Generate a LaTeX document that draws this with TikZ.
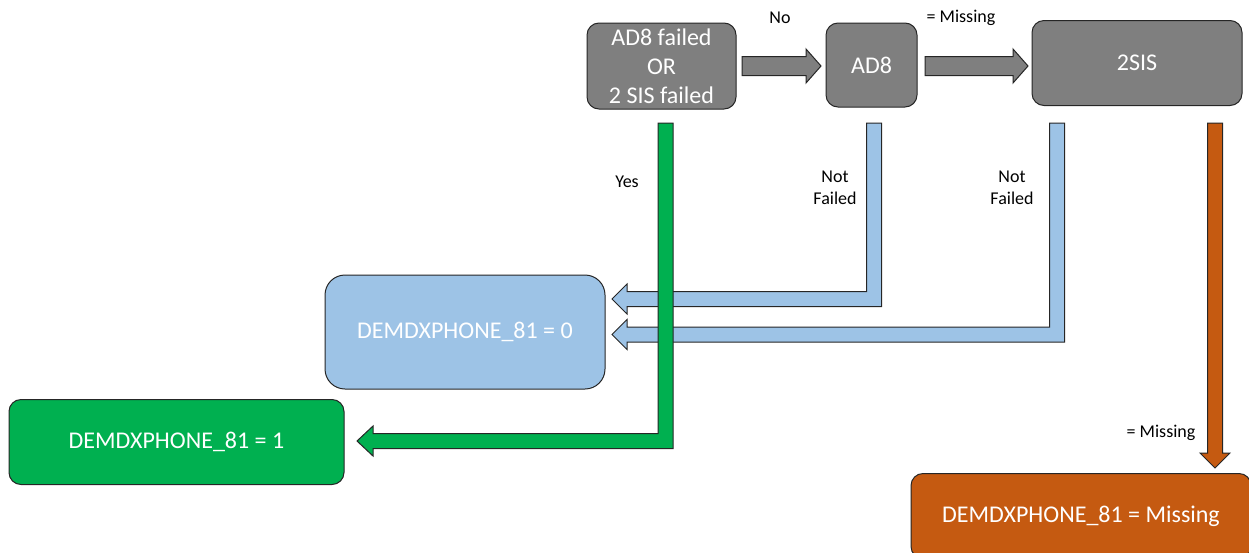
\documentclass[tikz,border=0pt]{standalone}
\usepackage{fontspec}
\setmainfont{Carlito}
\usetikzlibrary{calc}
\definecolor{cgray}{HTML}{7F7F7F}
\definecolor{cblue}{HTML}{9DC3E6}
\definecolor{cgreen}{HTML}{00B050}
\definecolor{corange}{HTML}{C55A11}
\definecolor{cline}{HTML}{262626}
\tikzset{
  box/.style={draw=cline, line width=1pt, rounded corners=12pt, inner sep=0pt, align=center,
    text=white, font=\fontsize{24}{29}\selectfont},
  lbl/.style={inner sep=0pt, align=center, text=black, font=\fontsize{18}{22}\selectfont},
  blk/.style={draw=cline, line width=1pt, line join=miter}
}
% horizontal block arrow: start, tip, shaft half-width, head half-width, head length (signed)
\newcommand{\HBlock}[6]{%
  \draw[blk, fill=#6] ($(#1)+(0,-#3)$) -- ($(#2)+(-#5,-#3)$) -- ($(#2)+(-#5,-#4)$) -- (#2)
    -- ($(#2)+(-#5,#4)$) -- ($(#2)+(-#5,#3)$) -- ($(#1)+(0,#3)$) -- cycle;}
% L-shaped block arrow: top, corner, tip (to the left), half-width, head half-width, head length
\newcommand{\LBlock}[7]{%
  \draw[blk, fill=#7] ($(#1)+(-#4,0)$) -- ($(#1)+(#4,0)$) -- ($(#2)+(#4,#4)$) -- ($(#3)+(#6,#4)$)
    -- ($(#3)+(#6,#5)$) -- (#3) -- ($(#3)+(#6,-#5)$) -- ($(#3)+(#6,-#4)$) -- ($(#2)+(-#4,-#4)$) -- cycle;}
% vertical block arrow downwards: top, tip, half-width, head half-width, head length
\newcommand{\VBlock}[6]{%
  \draw[blk, fill=#6] ($(#1)+(-#3,0)$) -- ($(#1)+(#3,0)$) -- ($(#2)+(#3,-#5)$) -- ($(#2)+(#4,-#5)$)
    -- (#2) -- ($(#2)+(-#4,-#5)$) -- ($(#2)+(-#3,-#5)$) -- cycle;}
\begin{document}
\begin{tikzpicture}[x=1pt,y=-1pt]
\useasboundingbox (0,0) rectangle (1249,552);
\clip (0,0) rectangle (1249,552);
% boxes
\node[box, fill=cgray, minimum width=149pt, minimum height=86pt] (fail) at (661.5,66) {AD8 failed\\OR\\2 SIS failed};
\node[box, fill=cgray, minimum width=91pt, minimum height=84pt] (ad8) at (871.5,65) {AD8};
\node[box, fill=cgray, minimum width=210pt, minimum height=85pt] (sis) at (1137,63) {2SIS};
\node[box, fill=cblue, rounded corners=20pt, minimum width=280pt, minimum height=114pt] (zero) at (465,332) {DEMDXPHONE\_81 = 0};
\node[box, fill=cgreen, minimum width=335pt, minimum height=85pt] (one) at (176.5,442) {DEMDXPHONE\_81 = 1};
\node[box, fill=corange, minimum width=340pt, minimum height=85pt] (miss) at (1081,516) {DEMDXPHONE\_81 = Missing};
% connector points
\coordinate (a1s) at (742,66);
\coordinate (a1e) at (821,66);
\coordinate (a2s) at (925,66);
\coordinate (a2e) at (1028,66);
\coordinate (b1t) at (874,123);
\coordinate (b1c) at (874,299);
\coordinate (b1e) at (612,299);
\coordinate (b2t) at (1057,123);
\coordinate (b2c) at (1057,334.5);
\coordinate (b2e) at (612,334.5);
\coordinate (gt) at (665.5,123);
\coordinate (gc) at (665.5,441);
\coordinate (ge) at (357,441);
\coordinate (ot) at (1215,123);
\coordinate (oe) at (1215,468);
% arrows
\HBlock{a1s}{a1e}{9.5}{17}{15}{cgray}
\HBlock{a2s}{a2e}{9.5}{17}{15}{cgray}
\LBlock{b1t}{b1c}{b1e}{7.5}{15}{15}{cblue}
\LBlock{b2t}{b2c}{b2e}{7.5}{15}{15}{cblue}
\LBlock{gt}{gc}{ge}{7.5}{15}{16}{cgreen}
\VBlock{ot}{oe}{7.5}{15}{15}{corange}
% labels
\node[lbl] (lno) at (780,18) {No};
\node[lbl] (lm1) at (961,18) {= Missing};
\node[lbl] (lyes) at (627,182) {Yes};
\node[lbl] (lnf1) at (835,188) {Not\\Failed};
\node[lbl] (lnf2) at (1012,188) {Not\\Failed};
\node[lbl] (lm2) at (1161,433) {= Missing};
\end{tikzpicture}
\end{document}
